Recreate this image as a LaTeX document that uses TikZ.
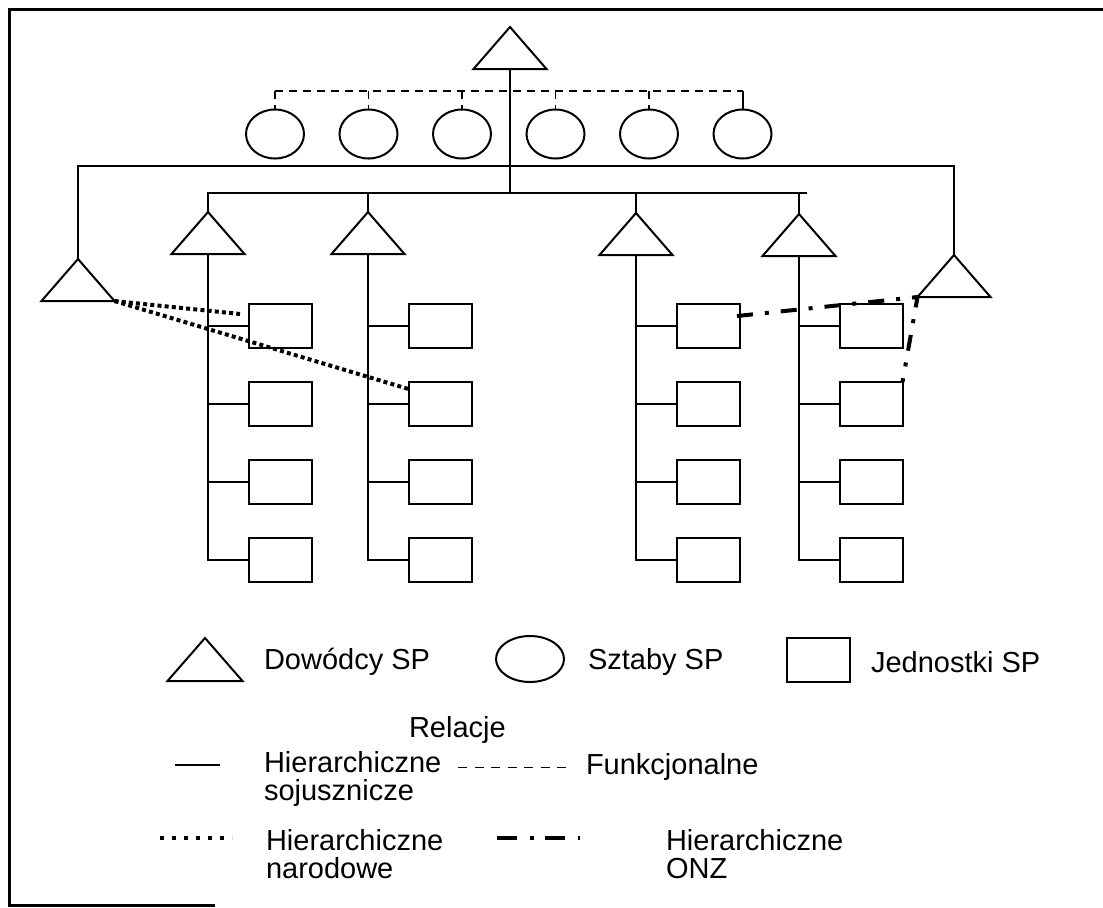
\documentclass[tikz,border=0pt]{standalone}
\usepackage{fontspec}
\setmainfont{Liberation Sans}
\usetikzlibrary{shapes}
\usetikzlibrary{positioning}

\begin{document}
\begin{tikzpicture}[x=0.5pt, y=-0.5pt, node distance=46.75pt, line width=1pt,
    dow/.style={isosceles triangle, isosceles triangle stretches, shape border rotate=90, draw, inner sep=0pt, outer sep=0pt, minimum width=36.5pt, minimum height=21pt, anchor=north},
    szt/.style={ellipse, draw, inner sep=0pt, outer sep=0pt, minimum width=29pt, minimum height=24.5pt},
    jed/.style={rectangle, draw, inner sep=0pt, outer sep=0pt, minimum width=31.5pt, minimum height=22pt},
    funk/.style={line width=0.8pt, dash pattern=on 4pt off 3pt},
    narod/.style={line width=2pt, dash pattern=on 2pt off 1.6pt},
    onz/.style={line width=2pt, dash pattern=on 8pt off 6pt on 2pt off 6pt},
    opis/.style={anchor=west, inner sep=0pt, align=left, font=\fontsize{14.5}{14}\selectfont}]
      \useasboundingbox (0,0) rectangle (1103,907);
      \draw[line width=1.5pt] (1103,9) -- (9,9) -- (9,905) -- (215,905);

      \node[dow]  (d_0)  at (510,27)   {};
      \node[szt]  (s_1)  at (275,134)  {};
      \node[szt]  (s_2)  [right of=s_1] {};
      \node[szt]  (s_3)  [right of=s_2] {};
      \node[szt]  (s_4)  [right of=s_3] {};
      \node[szt]  (s_5)  [right of=s_4] {};
      \node[szt]  (s_6)  [right of=s_5] {};

      \coordinate (f)   at (0,91);
      \coordinate (p_1) at (0,166);
      \coordinate (p_2) at (0,193);
      \draw[funk] (s_1 |- f) -- (s_6 |- f);
      \foreach \i in {1,...,5} \draw[funk] (s_\i |- f) -- (s_\i);
      \draw (s_6 |- f) -- (s_6);

      \node[dow]  (d_l)  at (78,259)   {};
      \node[dow]  (d_r)  at (954,255)  {};
      \node[dow]  (d_1)  at (208,212)  {};
      \node[dow]  (d_2)  at (368,212)  {};
      \node[dow]  (d_3)  at (636,213)  {};
      \node[dow]  (d_4)  at (799,214)  {};

      \draw (d_0.south) -- (d_0.south |- p_2);
      \draw (d_l.north) |- (d_r.north |- p_1) -- (d_r.north);
      \draw (d_1.north) |- ([xshift=4pt]d_4.north |- p_2);
      \draw (d_2.north) -- (d_2.north |- p_2);
      \draw (d_3.north) -- (d_3.north |- p_2);
      \draw (d_4.north) -- (d_4.north |- p_2);

      % jednostki pod kazdym dowodca
      \foreach \k/\x in {1/208,2/368,3/636,4/799} {
        \node[jed] (j_\k1) at (\x+72,326) {};
        \node[jed] (j_\k2) [below of=j_\k1, node distance=39pt] {};
        \node[jed] (j_\k3) [below of=j_\k2, node distance=39pt] {};
        \node[jed] (j_\k4) [below of=j_\k3, node distance=39pt] {};
        \draw (d_\k.south) |- (j_\k4);
        \foreach \r in {1,2,3} \draw (d_\k.south |- j_\k\r) -- (j_\k\r);
      }

      \draw[narod] (d_l.right corner) -- ([xshift=-4.25pt,yshift=6pt]j_11.west);
      \draw[narod] (d_l.right corner) -- ([yshift=7.5pt]j_22.west);
      \draw[onz] ([xshift=-1.25pt,yshift=5pt]j_31.east) -- (d_r.left corner) -- (j_42.north east);

      % legenda
      \node[dow, minimum width=37.5pt, minimum height=21.5pt] (l_d) at (205,638) {};
      \node[opis] (t_d) at (263,662) {Dowódcy SP};
      \node[szt, minimum width=34pt, minimum height=23pt] (l_s) at (530,659) {};
      \node[opis] (t_s) at (587,662) {Sztaby SP};
      \node[jed] (l_j) at (818.5,660) {};
      \node[opis] (t_j) at (870,662) {Jednostki SP};
      \node[opis] (t_r) at (408,730) {Relacje};
      \draw (175,765) -- (220,765);
      \node[opis] (t_hs) at (263,779) {Hierarchiczne\\sojusznicze};
      \draw[line width=0.5pt, dash pattern=on 4.5pt off 3.75pt] (458,767) -- (567,767);
      \node[opis] (t_f) at (585,767) {Funkcjonalne};
      \draw[line width=1.8pt, dash pattern=on 1.8pt off 4.2pt] (160,838) -- (232,838);
      \node[opis] (t_hn) at (265,854) {Hierarchiczne\\narodowe};
      \draw[line width=2pt, dash pattern=on 10pt off 6.5pt on 2pt off 5.5pt] (497,838) -- (580,838);
      \node[opis] (t_ho) at (665,854) {Hierarchiczne\\ONZ};
    \end{tikzpicture}
\end{document}
